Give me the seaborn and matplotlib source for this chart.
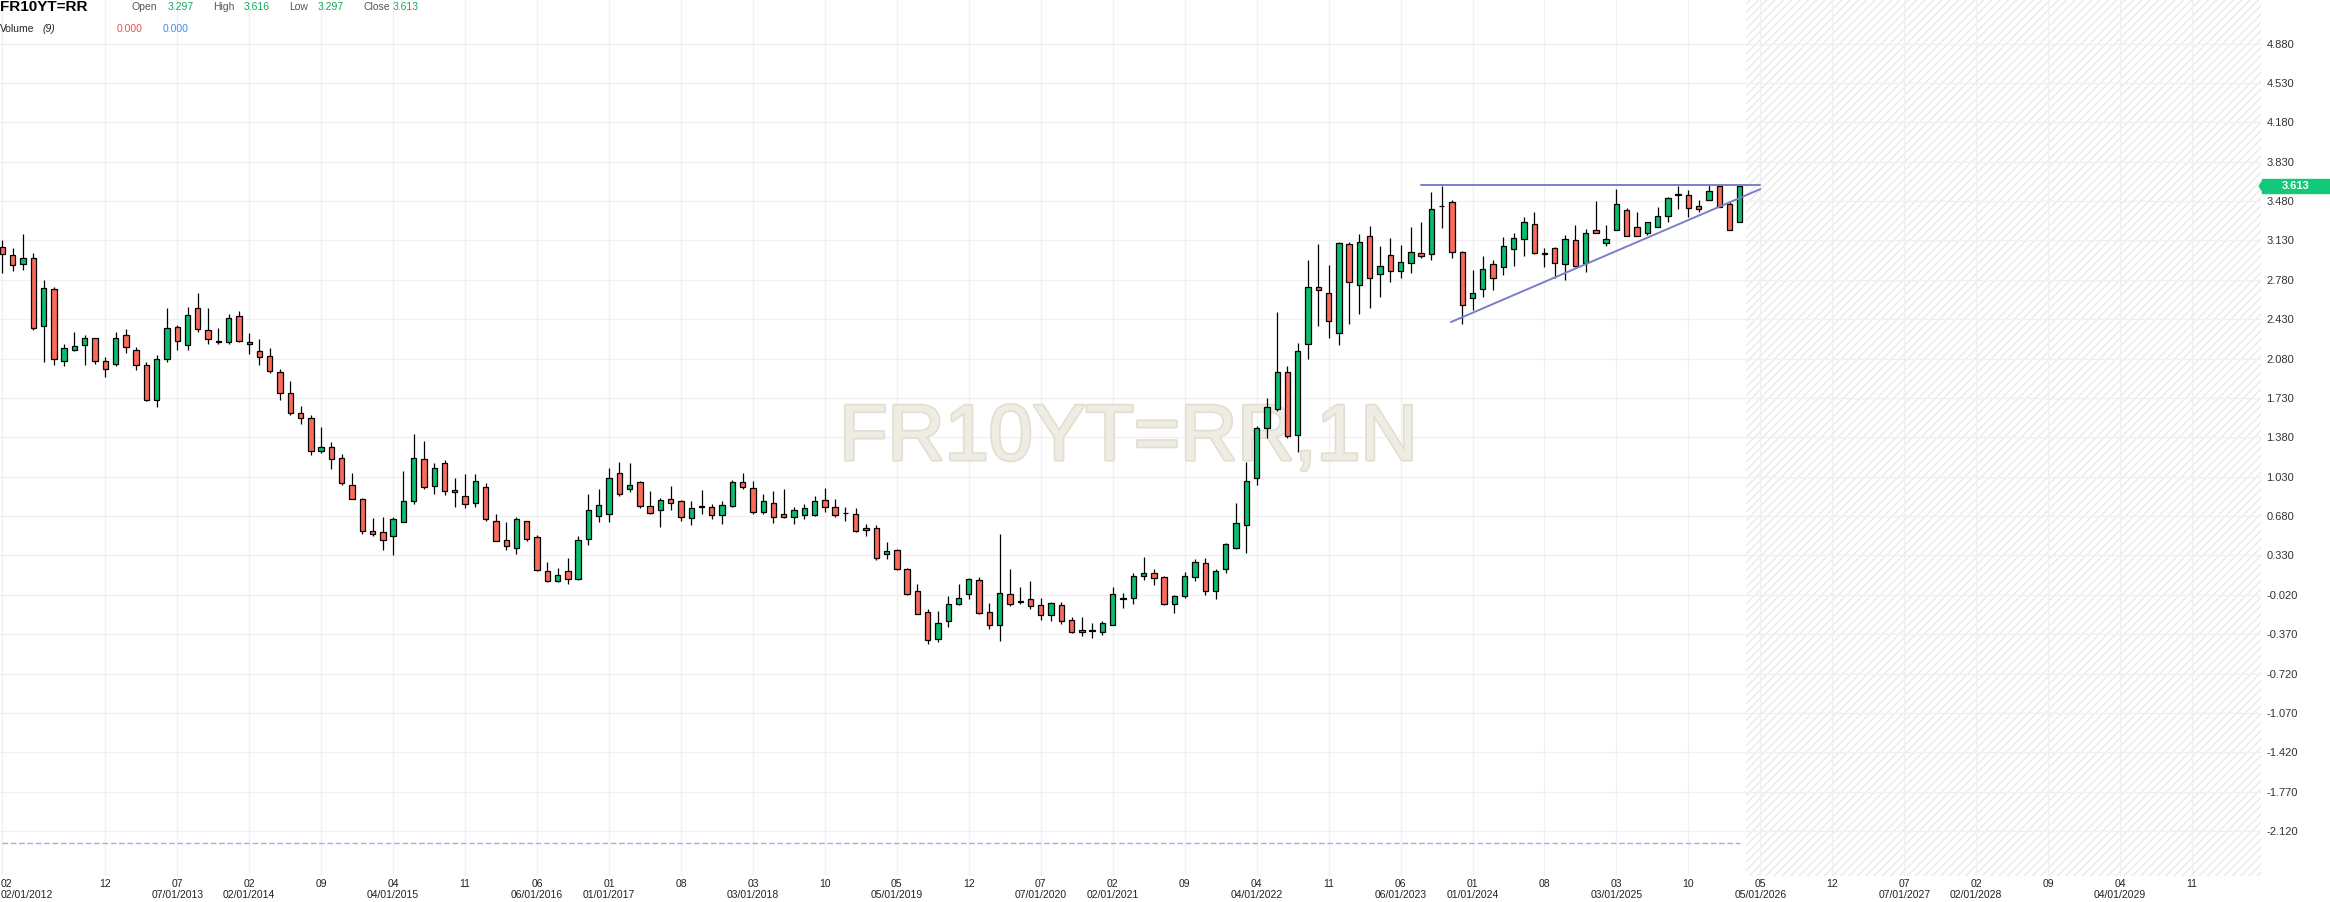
"""
FR10YT=RR monthly candlestick chart (French 10Y yield)
"""

import numpy as np
import pandas as pd
import matplotlib
matplotlib.use("Agg")
import matplotlib.pyplot as plt
import matplotlib.transforms as mtransforms
import matplotlib.patheffects as pe
from matplotlib.patches import Rectangle, Polygon
import seaborn as sns

# ---- data (monthly candles, first one is 02/2012) ----
opens = [3.07, 3.00, 2.92, 2.97, 2.37, 2.70, 2.06, 2.16, 2.20, 2.26,
         2.06, 2.03, 2.29, 2.16, 2.02, 1.71, 2.08, 2.36, 2.20, 2.53,
         2.33, 2.235, 2.23, 2.46, 2.23, 2.15, 2.10, 1.96, 1.77, 1.60,
         1.55, 1.26, 1.29, 1.20, 0.96, 0.83, 0.55, 0.54, 0.50, 0.63,
         0.81, 1.19, 0.95, 1.15, 0.91, 0.86, 0.80, 0.94, 0.64, 0.47,
         0.40, 0.64, 0.49, 0.19, 0.10, 0.19, 0.12, 0.48, 0.68, 0.70,
         1.06, 0.92, 0.98, 0.77, 0.73, 0.83, 0.81, 0.66, 0.76, 0.76,
         0.69, 0.77, 0.98, 0.93, 0.72, 0.80, 0.70, 0.67, 0.69, 0.69,
         0.82, 0.76, 0.71, 0.70, 0.57, 0.57, 0.34, 0.38, 0.21, 0.01,
         -0.17, -0.41, -0.25, -0.10, -0.01, 0.11, -0.17, -0.29, -0.01, -0.075,
         -0.06, -0.11, -0.20, -0.11, -0.24, -0.35, -0.335, -0.35, -0.29, -0.06,
         -0.05, 0.15, 0.17, 0.14, -0.10, -0.03, 0.14, 0.26, 0.01, 0.21,
         0.40, 0.60, 1.02, 1.46, 1.63, 1.96, 1.40, 2.21, 2.72, 2.66,
         2.31, 3.10, 2.73, 3.17, 2.83, 3.00, 2.86, 2.93, 3.02, 3.01,
         3.44, 3.47, 3.03, 2.62, 2.70, 2.92, 2.89, 3.05, 3.14, 3.28,
         3.015, 3.06, 2.92, 3.13, 2.93, 3.22, 3.11, 3.22, 3.40, 3.25,
         3.20, 3.25, 3.35, 3.54, 3.53, 3.44, 3.49, 3.61, 3.45, 3.297]
highs = [3.13, 3.06, 3.19, 3.02, 2.78, 2.72, 2.21, 2.32, 2.29, 2.26,
         2.09, 2.32, 2.34, 2.18, 2.05, 2.11, 2.53, 2.38, 2.54, 2.66,
         2.53, 2.35, 2.48, 2.50, 2.31, 2.25, 2.17, 1.99, 1.88, 1.66,
         1.58, 1.47, 1.34, 1.23, 1.06, 0.84, 0.66, 0.67, 0.67, 1.08,
         1.41, 1.35, 1.15, 1.18, 1.02, 1.05, 1.05, 0.97, 0.70, 0.63,
         0.67, 0.64, 0.51, 0.27, 0.22, 0.31, 0.50, 0.88, 0.92, 1.11,
         1.16, 1.15, 0.99, 0.90, 0.84, 0.95, 0.82, 0.81, 0.91, 0.79,
         0.81, 1.00, 1.06, 0.99, 0.88, 0.90, 0.92, 0.76, 0.79, 0.86,
         0.93, 0.83, 0.76, 0.75, 0.61, 0.60, 0.45, 0.39, 0.22, 0.08,
         -0.15, -0.16, -0.03, 0.08, 0.13, 0.14, -0.09, 0.52, 0.21, 0.05,
         0.10, -0.05, -0.08, -0.08, -0.22, -0.22, -0.27, -0.25, 0.05, 0.00,
         0.17, 0.32, 0.21, 0.15, -0.025, 0.18, 0.30, 0.31, 0.21, 0.44,
         0.80, 1.16, 1.48, 1.73, 2.49, 2.01, 2.22, 2.96, 3.10, 2.91,
         3.12, 3.12, 3.19, 3.26, 3.08, 3.15, 3.09, 3.25, 3.29, 3.56,
         3.61, 3.49, 3.04, 2.87, 2.99, 2.96, 3.16, 3.20, 3.34, 3.38,
         3.06, 3.07, 3.18, 3.27, 3.23, 3.48, 3.27, 3.59, 3.42, 3.38,
         3.29, 3.43, 3.52, 3.61, 3.58, 3.49, 3.62, 3.62, 3.47, 3.616]
lows = [2.84, 2.86, 2.87, 2.33, 2.05, 2.02, 2.01, 2.15, 2.02, 2.03,
        1.92, 2.01, 2.13, 1.98, 1.70, 1.65, 2.05, 2.16, 2.16, 2.32,
        2.21, 2.21, 2.21, 2.23, 2.12, 2.02, 1.95, 1.71, 1.58, 1.50,
        1.22, 1.24, 1.10, 0.96, 0.83, 0.52, 0.50, 0.38, 0.33, 0.63,
        0.79, 0.92, 0.88, 0.87, 0.76, 0.75, 0.76, 0.64, 0.46, 0.38,
        0.34, 0.46, 0.19, 0.09, 0.09, 0.08, 0.11, 0.42, 0.63, 0.63,
        0.86, 0.89, 0.75, 0.70, 0.58, 0.73, 0.64, 0.60, 0.70, 0.65,
        0.61, 0.76, 0.92, 0.70, 0.70, 0.62, 0.66, 0.61, 0.65, 0.68,
        0.72, 0.67, 0.64, 0.54, 0.50, 0.29, 0.30, 0.20, -0.02, -0.19,
        -0.46, -0.44, -0.31, -0.11, -0.06, -0.19, -0.32, -0.43, -0.12, -0.10,
        -0.15, -0.24, -0.25, -0.28, -0.36, -0.39, -0.40, -0.38, -0.29, -0.14,
        -0.10, 0.11, 0.07, -0.11, -0.18, -0.05, 0.10, -0.02, -0.06, 0.17,
        0.39, 0.35, 0.96, 1.37, 1.61, 1.37, 1.25, 2.08, 2.37, 2.26,
        2.20, 2.39, 2.48, 2.53, 2.63, 2.76, 2.80, 2.84, 2.97, 2.96,
        3.24, 2.97, 2.39, 2.51, 2.63, 2.69, 2.82, 2.90, 2.99, 3.01,
        2.89, 2.80, 2.78, 2.89, 2.85, 3.20, 3.08, 3.22, 3.17, 3.17,
        3.18, 3.25, 3.29, 3.41, 3.34, 3.38, 3.49, 3.43, 3.22, 3.297]
closes = [3.01, 2.91, 2.97, 2.35, 2.71, 2.08, 2.17, 2.19, 2.26, 2.06,
          1.99, 2.26, 2.18, 2.02, 1.71, 2.08, 2.35, 2.24, 2.47, 2.34,
          2.25, 2.23, 2.44, 2.24, 2.21, 2.09, 1.97, 1.77, 1.60, 1.55,
          1.26, 1.29, 1.19, 0.97, 0.83, 0.55, 0.52, 0.47, 0.65, 0.81,
          1.20, 0.94, 1.11, 0.90, 0.89, 0.79, 0.99, 0.65, 0.46, 0.41,
          0.65, 0.48, 0.20, 0.10, 0.16, 0.12, 0.47, 0.73, 0.78, 1.02,
          0.88, 0.96, 0.77, 0.71, 0.82, 0.80, 0.67, 0.75, 0.765, 0.69,
          0.78, 0.98, 0.94, 0.72, 0.81, 0.67, 0.67, 0.73, 0.75, 0.81,
          0.76, 0.69, 0.705, 0.55, 0.56, 0.31, 0.37, 0.21, -0.01, -0.19,
          -0.42, -0.27, -0.10, -0.05, 0.12, -0.185, -0.29, 0.00, -0.105, -0.08,
          -0.12, -0.20, -0.09, -0.25, -0.35, -0.33, -0.34, -0.27, -0.01, -0.05,
          0.15, 0.17, 0.13, -0.10, -0.035, 0.15, 0.27, 0.01, 0.19, 0.43,
          0.62, 0.99, 1.46, 1.65, 1.96, 1.39, 2.15, 2.72, 2.69, 2.41,
          3.11, 2.76, 3.12, 2.80, 2.90, 2.86, 2.94, 3.03, 2.99, 3.41,
          3.435, 3.03, 2.56, 2.66, 2.88, 2.80, 3.08, 3.15, 3.29, 3.02,
          3.01, 2.93, 3.14, 2.90, 3.20, 3.20, 3.14, 3.45, 3.17, 3.17,
          3.29, 3.35, 3.51, 3.535, 3.42, 3.41, 3.57, 3.43, 3.22, 3.613]
volumes = [0.0] * len(closes)

first_month = "2012-02-01"

# x-axis ticks (every 7 months) and the ones that also carry a full date
tick_months = ["2012-02", "2012-12", "2013-07", "2014-02", "2014-09", "2015-04",
               "2015-11", "2016-06", "2017-01", "2017-08", "2018-03", "2018-10",
               "2019-05", "2019-12", "2020-07", "2021-02", "2021-09", "2022-04",
               "2022-11", "2023-06", "2024-01", "2024-08", "2025-03", "2025-10",
               "2026-05", "2026-12", "2027-07", "2028-02", "2028-09", "2029-04",
               "2029-11"]
dated_months = ["2012-02", "2013-07", "2014-02", "2015-04", "2016-06", "2017-01",
                "2018-03", "2019-05", "2020-07", "2021-02", "2022-04", "2023-06",
                "2024-01", "2025-03", "2026-05", "2027-07", "2028-02", "2029-04"]

ytick_values = [4.88, 4.53, 4.18, 3.83, 3.48, 3.13, 2.78, 2.43, 2.08, 1.73,
                1.38, 1.03, 0.68, 0.33, -0.02, -0.37, -0.72, -1.07, -1.42,
                -1.77, -2.12]

# drawn trend lines (candle index, yield)
resistance_x = [138.0, 171.0]
resistance_y = [3.625, 3.625]
support_x = [140.9, 171.0]
support_y = [2.404, 3.586]

GREEN = "#0bbd6e"
RED = "#f96a5b"
LINE = "#7b7fc6"

sns.set_style("white")
plt.rcParams["font.family"] = ["Liberation Sans", "DejaVu Sans"]
plt.rcParams["axes.unicode_minus"] = False
plt.rcParams["hatch.linewidth"] = 1.0
plt.rcParams["hatch.color"] = "#e9e9e9"

months = pd.date_range(first_month, periods=len(closes), freq="MS")
df = pd.DataFrame({"open": opens, "high": highs, "low": lows,
                   "close": closes, "volume": volumes}, index=months)
df["x"] = np.arange(len(df))
start = pd.Timestamp(first_month)


def month_index(s):
    t = pd.Timestamp(s + "-01")
    return (t.year - start.year) * 12 + (t.month - start.month)


fig = plt.figure(figsize=(23.3, 9.02), dpi=100)
ax = fig.add_axes([0, 26 / 902, 2261 / 2330, 876 / 902])

# volume pane (all zero) drawn on a twin axis, behind the price axis
vax = ax.twinx()
vax.set_ylim(-1, 25.5)
vax.plot(df["x"], df["volume"].rolling(9, min_periods=1).mean(),
         color="#8fb8e8", lw=1.0, ls=(0, (4, 2)))
vax.set_yticks([])
for s in vax.spines.values():
    s.set_visible(False)

# future (hatched) area
n = len(df)
ax.axvspan(n - 0.4, 230, facecolor="white", edgecolor="#e9e9e9",
           hatch="////", linewidth=0, zorder=0)

# candles
up = df["close"] >= df["open"]
body_lo = df[["open", "close"]].min(axis=1)
body_h = (df["close"] - df["open"]).abs()
ax.vlines(df["x"], df["low"], df["high"], color="black", lw=0.9, zorder=3)
ax.bar(df["x"], body_h, bottom=body_lo, width=0.52,
       color=np.where(up, GREEN, RED), edgecolor="black", linewidth=0.9,
       zorder=4)

# trend lines
sns.lineplot(x=resistance_x, y=resistance_y, ax=ax, color=LINE, lw=1.4,
             zorder=5)
sns.lineplot(x=support_x, y=support_y, ax=ax, color=LINE, lw=1.4, zorder=5)

# watermark
ax.text(0.499, 0.475, "FR10YT=RR,1N", transform=ax.transAxes,
        fontsize=57, color="#efece3", ha="center", va="baseline", zorder=1,
        path_effects=[pe.withStroke(linewidth=2.5, foreground="#e2ded2")])

ax.set_xlim(-0.24, 219.7)
ax.set_ylim(-2.52, 5.267)

tick_idx = [month_index(m) for m in tick_months]
ax.set_xticks(tick_idx)
ax.set_yticks(ytick_values)
ax.set_yticklabels([f"{v:.3f}" for v in ytick_values])
ax.yaxis.tick_right()
ax.tick_params(axis="x", length=0, labelbottom=False)
ax.tick_params(axis="y", length=0, pad=4, labelsize=8, labelcolor="#333333",
               left=False, labelleft=False, right=True, labelright=True)
ax.grid(True, color="#f0f0f0", lw=1.0, zorder=0)
ax.set_axisbelow(True)
for s in ax.spines.values():
    s.set_visible(False)

# x labels: month number, plus full date on some ticks
bt = mtransforms.blended_transform_factory(ax.transData, fig.transFigure)
for m, xi in zip(tick_months, tick_idx):
    ha = "left" if xi == 0 else "center"
    xpos = -0.2 if xi == 0 else xi
    ax.text(xpos, 1 - 884 / 902, m[5:], transform=bt, ha=ha, va="center",
            fontsize=7.5, color="#222222", clip_on=False)
    if m in dated_months:
        ax.text(xpos, 1 - 894.5 / 902, f"{m[5:]}/01/{m[:4]}", transform=bt,
                ha=ha, va="center", fontsize=7.5, color="#222222",
                clip_on=False)

# last price tag on the right
last = df["close"].iloc[-1]
yt = mtransforms.blended_transform_factory(ax.transAxes, ax.transData)
tag_h = 14 / 112.5
ax.add_patch(Rectangle((1.0006, last - tag_h / 2), 0.035, tag_h,
                       transform=yt, color="#12c97a", clip_on=False,
                       zorder=6))
ax.add_patch(Polygon([(1.0006, last - tag_h / 3), (0.9992, last),
                      (1.0006, last + tag_h / 3)], closed=True,
                     transform=yt, color="#12c97a", clip_on=False, zorder=6))
ax.text(1.0155, last, f"{last:.3f}", transform=yt, ha="center",
        va="center", fontsize=8, color="white", fontweight="bold",
        zorder=7, clip_on=False)


# header
def ftext(px, py, s, **kw):
    fig.text(px / 2330, 1 - py / 902, s, va="center", **kw)


ftext(0, 7, "FR10YT=RR", fontsize=11, fontweight="bold", color="black")
o, h, l, c = opens[-1], highs[-1], lows[-1], closes[-1]
for px, s, col in [(132, "Open", "#555555"), (168, f"{o:.3f}", "#17a85a"),
                   (213, "High", "#555555"), (244, f"{h:.3f}", "#17a85a"),
                   (289, "Low", "#555555"), (318, f"{l:.3f}", "#17a85a"),
                   (363, "Close", "#555555"), (393, f"{c:.3f}", "#17a85a")]:
    ftext(px, 7.5, s, fontsize=7.5, color=col)
ftext(0, 29.5, "Volume", fontsize=7.5, color="#222222")
ftext(43, 29.5, "(9)", fontsize=7.5, color="#222222", style="italic")
ftext(117, 29.5, f"{df['volume'].iloc[-1]:.3f}", fontsize=7.5, color="#e0524f")
ftext(163, 29.5, f"{df['volume'].iloc[-1]:.3f}", fontsize=7.5, color="#3d8ef0")

fig.savefig("out.png", dpi=100)
